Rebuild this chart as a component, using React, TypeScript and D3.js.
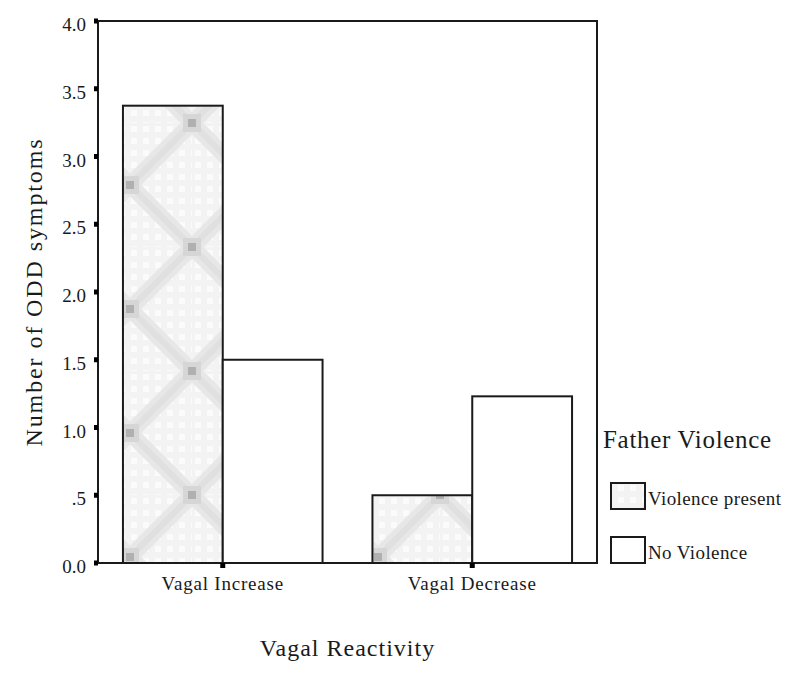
import { useEffect, useRef } from 'react'
import * as d3 from 'd3'

const categories = ['Vagal Increase', 'Vagal Decrease']
const groups = ['Violence present', 'No Violence']
const violencePresent = [3.375, 0.5]
const noViolence = [1.5, 1.23]
const yTicks = [0, 0.5, 1, 1.5, 2, 2.5, 3, 3.5, 4]
const yTickLabels = ['0.0', '.5', '1.0', '1.5', '2.0', '2.5', '3.0', '3.5', '4.0']

const FONT = '"Liberation Serif", "DejaVu Serif", serif'
const INK = '#1a1a1a'

export default function App() {
  const ref = useRef<SVGSVGElement | null>(null)

  useEffect(() => {
    const el = ref.current
    if (!el) return
    const svg = d3.select(el)
    svg.selectAll('*').remove()

    const left = 98
    const right = 597
    const top = 21
    const bottom = 563

    // diamond lattice fill like the old SPSS hatch
    const defs = svg.append('defs')
    const pat = defs
      .append('pattern')
      .attr('id', 'lattice')
      .attr('patternUnits', 'userSpaceOnUse')
      .attr('x', 68)
      .attr('y', 495)
      .attr('width', 124)
      .attr('height', 124)
    pat.append('rect').attr('width', 124).attr('height', 124).attr('fill', '#f3f3f3')
    for (let i = 0; i < 124; i += 12) {
      for (let j = 0; j < 124; j += 12) {
        pat.append('rect').attr('x', i + 3).attr('y', j + 3).attr('width', 6).attr('height', 6).attr('fill', '#fbfbfb')
      }
    }
    const diag = [
      [0, 0, 124, 124],
      [124, 0, 0, 124],
    ]
    diag.forEach(([x1, y1, x2, y2]) => {
      pat.append('line').attr('x1', x1).attr('y1', y1).attr('x2', x2).attr('y2', y2)
        .attr('stroke', '#e7e7e7').attr('stroke-width', 16)
      pat.append('line').attr('x1', x1).attr('y1', y1).attr('x2', x2).attr('y2', y2)
        .attr('stroke', '#e0e0e0').attr('stroke-width', 6)
    })
    const spots = [[0, 0], [124, 0], [0, 124], [124, 124], [62, 62]]
    spots.forEach(([cx, cy]) => {
      pat.append('rect').attr('x', cx - 9).attr('y', cy - 9).attr('width', 18).attr('height', 18).attr('fill', '#d6d6d6')
      pat.append('rect').attr('x', cx - 4).attr('y', cy - 4).attr('width', 8).attr('height', 8).attr('fill', '#b0b0b0')
    })

    const x0 = d3.scaleBand().domain(categories).range([left, right]).paddingInner(0.2).paddingOuter(0.1)
    const x1 = d3.scaleBand().domain(groups).range([0, x0.bandwidth()])
    const y = d3.scaleLinear().domain([0, 4]).range([bottom, top])

    const fills: Record<string, string> = { 'Violence present': 'url(#lattice)', 'No Violence': '#ffffff' }

    const rows = categories.flatMap((c, i) => [
      { c, g: groups[0], v: violencePresent[i] },
      { c, g: groups[1], v: noViolence[i] },
    ])

    // frame
    svg.append('rect')
      .attr('x', left).attr('y', top).attr('width', right - left).attr('height', bottom - top)
      .attr('fill', '#fff').attr('stroke', INK).attr('stroke-width', 2)

    svg.selectAll('rect.bar')
      .data(rows)
      .join('rect')
      .attr('class', 'bar')
      .attr('x', (d) => (x0(d.c) ?? 0) + (x1(d.g) ?? 0))
      .attr('y', (d) => y(d.v))
      .attr('width', x1.bandwidth())
      .attr('height', (d) => bottom - y(d.v))
      .attr('fill', (d) => fills[d.g])
      .attr('stroke', INK)
      .attr('stroke-width', 2)

    // y ticks: small squares + labels
    svg.selectAll('rect.ytick')
      .data(yTicks)
      .join('rect')
      .attr('class', 'ytick')
      .attr('x', left - 4).attr('y', (d) => y(d) - 2.5)
      .attr('width', 4).attr('height', 5).attr('fill', '#000')

    svg.selectAll('text.ylab')
      .data(yTicks)
      .join('text')
      .attr('class', 'ylab')
      .attr('x', 86)
      .attr('y', (d) => y(d) + 10)
      .attr('text-anchor', 'end')
      .attr('font-family', FONT)
      .attr('font-size', 19)
      .attr('fill', INK)
      .text((d, i) => yTickLabels[i])

    // x ticks
    svg.selectAll('rect.xtick')
      .data(categories)
      .join('rect')
      .attr('class', 'xtick')
      .attr('x', (d) => (x0(d) ?? 0) + x0.bandwidth() / 2 - 2.5)
      .attr('y', bottom)
      .attr('width', 5).attr('height', 5).attr('fill', '#000')

    svg.selectAll('text.xlab')
      .data(categories)
      .join('text')
      .attr('class', 'xlab')
      .attr('x', (d) => (x0(d) ?? 0) + x0.bandwidth() / 2)
      .attr('y', 590)
      .attr('text-anchor', 'middle')
      .attr('font-family', FONT)
      .attr('font-size', 19)
      .attr('letter-spacing', 0.8)
      .attr('fill', INK)
      .text((d) => d)

    // axis titles
    svg.append('text')
      .attr('x', (left + right) / 2)
      .attr('y', 656)
      .attr('text-anchor', 'middle')
      .attr('font-family', FONT)
      .attr('font-size', 24)
      .attr('letter-spacing', 1)
      .attr('fill', INK)
      .text('Vagal Reactivity')

    svg.append('text')
      .attr('transform', `translate(42,${(top + bottom) / 2}) rotate(-90)`)
      .attr('text-anchor', 'middle')
      .attr('font-family', FONT)
      .attr('font-size', 24)
      .attr('letter-spacing', 1.9)
      .attr('fill', INK)
      .text('Number of ODD symptoms')

    // legend
    svg.append('text')
      .attr('x', 603).attr('y', 448)
      .attr('font-family', FONT)
      .attr('font-size', 25)
      .attr('letter-spacing', 0.7)
      .attr('fill', INK)
      .text('Father Violence')

    const leg = svg.selectAll('g.leg')
      .data(groups)
      .join('g')
      .attr('class', 'leg')
      .attr('transform', (d, i) => `translate(611,${483 + i * 54})`)
    leg.append('rect')
      .attr('width', 34).attr('height', 26)
      .attr('fill', (d) => fills[d])
      .attr('stroke', INK).attr('stroke-width', 2)
    leg.append('text')
      .attr('x', 37).attr('y', 22)
      .attr('font-family', FONT)
      .attr('font-size', 19)
      .attr('letter-spacing', 0.4)
      .attr('fill', INK)
      .text((d) => d)
  }, [])

  return (
    <svg
      ref={ref}
      width={800}
      height={673}
      style={{ position: 'absolute', left: 0, top: 0, background: '#fff' }}
    />
  )
}
